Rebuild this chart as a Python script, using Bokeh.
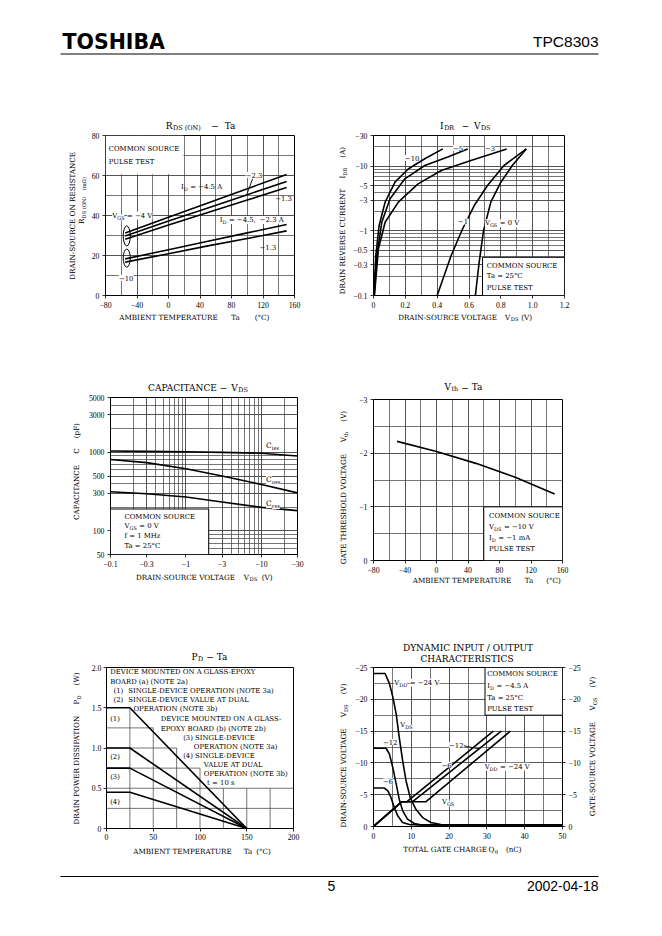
import math
from bokeh.plotting import figure
from bokeh.models import Range1d, FixedTicker, Label, LinearAxis
from bokeh.layouts import column, row
from bokeh.embed import file_html
from bokeh.resources import INLINE
from bokeh.core.properties import value

SERIF = "DejaVu Serif"
TICKF = "Liberation Serif"
SANS = "Liberation Sans"
GRID = "#484848"
LW = 1.6

# ---------------- Chart 1 : RDS(ON) - Ta ----------------
rds_ta = [-55, 0, 50, 100, 150]
rds_vgs4_id45 = [31.3, 39.1, 46.2, 53.4, 60.5]
rds_vgs4_id23 = [29.8, 37.2, 43.8, 50.4, 57.0]
rds_vgs4_id13 = [28.1, 35.2, 41.5, 47.7, 54.0]
rds_vgs10_id45 = [18.3, 22.9, 27.1, 31.3, 35.5]
rds_vgs10_id13 = [16.7, 20.9, 24.8, 28.5, 32.3]
rds_x_ticks = [-80, -40, 0, 40, 80, 120, 160]
rds_x_labels = ["−80", "−40", "0", "40", "80", "120", "160"]
rds_y_ticks = [0, 20, 40, 60, 80]
rds_y_labels = ["0", "20", "40", "60", "80"]

# ---------------- Chart 2 : IDR - VDS ----------------
idr_vgs0_v = [0.64, 0.664, 0.691, 0.737, 0.80, 0.872, 0.96]
idr_vgs0_i = [0.1, 0.328, 1.0, 2.79, 5.68, 10.3, 18.6]
idr_vgs1_v = [0.40, 0.488, 0.56, 0.633, 0.716, 0.82, 0.96]
idr_vgs1_i = [0.1, 0.416, 1.08, 2.47, 5.04, 10.3, 18.6]
idr_vgs3_v = [0.006, 0.031, 0.073, 0.156, 0.28, 0.426, 0.612, 0.837]
idr_vgs3_i = [0.1, 0.53, 1.36, 2.79, 5.35, 8.6, 12.3, 18.6]
idr_vgs5_v = [0.004, 0.021, 0.052, 0.104, 0.197, 0.322, 0.467, 0.592]
idr_vgs5_i = [0.1, 0.416, 1.36, 3.14, 6.4, 10.3, 13.9, 18.6]
idr_vgs10_v = [0.002, 0.0145, 0.035, 0.073, 0.135, 0.218, 0.322, 0.436]
idr_vgs10_i = [0.1, 0.416, 1.2, 2.79, 5.68, 9.1, 13.1, 18.6]
idr_x_ticks = [0, 0.2, 0.4, 0.6, 0.8, 1.0, 1.2]
idr_x_labels = ["0", "0.2", "0.4", "0.6", "0.8", "1.0", "1.2"]
idr_y_ticks = [0.1, 0.3, 0.5, 1, 3, 5, 10, 30]
idr_y_labels = ["−0.1", "−0.3", "−0.5", "−1", "−3", "−5", "−10", "−30"]

# ---------------- Chart 3 : Capacitance - VDS ----------------
cap_vds = [0.1, 0.3, 1, 3, 10, 30]
cap_ciss = [1040, 1030, 1020, 1000, 975, 900]
cap_coss = [810, 740, 620, 500, 390, 305]
cap_crss = [315, 297, 270, 233, 199, 181]
cap_x_ticks = [0.1, 0.3, 1, 3, 10, 30]
cap_x_labels = ["−0.1", "−0.3", "−1", "−3", "−10", "−30"]
cap_y_ticks = [50, 100, 300, 500, 1000, 3000, 5000]
cap_y_labels = ["50", "100", "300", "500", "1000", "3000", "5000"]

# ---------------- Chart 4 : Vth - Ta ----------------
vth_ta = [-50, 0, 50, 100, 150]
vth_v = [-2.22, -2.03, -1.81, -1.55, -1.24]
vth_x_ticks = [-80, -40, 0, 40, 80, 120, 160]
vth_x_labels = ["−80", "−40", "0", "40", "80", "120", "160"]
vth_y_ticks = [0, -1, -2, -3]
vth_y_labels = ["0", "−1", "−2", "−3"]

# ---------------- Chart 5 : PD - Ta ----------------
pd_ta = [0, 25, 150]
pd_1 = [1.5, 1.5, 0]
pd_2 = [1.0, 1.0, 0]
pd_3 = [0.75, 0.75, 0]
pd_4 = [0.45, 0.45, 0]
pd_x_ticks = [0, 50, 100, 150, 200]
pd_x_labels = ["0", "50", "100", "150", "200"]
pd_y_ticks = [0, 0.5, 1.0, 1.5, 2.0]
pd_y_labels = ["0", "0.5", "1.0", "1.5", "2.0"]

# ---------------- Chart 6 : dynamic input / output ----------------
dyn_vds24_q = [0, 3.07, 4.2, 5.1, 6.0, 6.8, 7.7, 8.6, 9.7, 11.2, 13.0, 15.2, 17.8, 50]
dyn_vds24_v = [-24.05, -24.05, -22.5, -20.4, -17.7, -14.05, -10.4, -7.2, -4.6, -2.7, -1.4, -0.63, -0.32, -0.26]
dyn_vds12_q = [0, 3.33, 4.2, 5.1, 6.0, 6.8, 7.7, 9.0, 10.8, 12.5, 50]
dyn_vds12_v = [-12.3, -12.3, -11.4, -9.3, -6.7, -4.3, -2.5, -1.16, -0.47, -0.26, -0.26]
dyn_vds6_q = [0, 2.9, 3.8, 4.6, 5.5, 6.4, 7.7, 9.5, 11.7, 50]
dyn_vds6_v = [-6.05, -6.05, -5.6, -4.6, -3.0, -1.68, -0.63, -0.32, -0.26, -0.26]
dyn_vgs6_q = [0, 7.5, 8.86, 31.7]
dyn_vgs12_q = [0, 7.5, 10.35, 33.8]
dyn_vgs24_q = [0, 7.5, 13.9, 36.2]
dyn_vgs_v = [0, -3.9, -3.9, -15.0]
dyn_x_ticks = [0, 10, 20, 30, 40, 50]
dyn_x_labels = ["0", "10", "20", "30", "40", "50"]
dyn_y_ticks = [0, -5, -10, -15, -20, -25]
dyn_y_labels = ["0", "−5", "−10", "−15", "−20", "−25"]

# ---------------- text helpers ----------------
CW = {' ': .318, 'A': .722, 'B': .735, 'C': .765, 'D': .802, 'E': .730, 'F': .694, 'G': .799,
      'H': .872, 'I': .395, 'J': .401, 'K': .747, 'L': .664, 'M': 1.024, 'N': .875, 'O': .820,
      'P': .673, 'Q': .820, 'R': .753, 'S': .685, 'T': .667, 'U': .843, 'V': .722, 'W': 1.028,
      'X': .712, 'Y': .660, 'Z': .695, 'a': .596, 'b': .640, 'c': .560, 'd': .640, 'e': .592,
      'f': .370, 'g': .640, 'h': .644, 'i': .320, 'j': .310, 'k': .606, 'l': .320, 'm': .948,
      'n': .644, 'o': .602, 'p': .640, 'q': .640, 'r': .478, 's': .513, 't': .402, 'u': .644,
      'v': .565, 'w': .856, 'x': .564, 'y': .565, 'z': .527, '(': .390, ')': .390, '-': .338,
      '−': .838, '=': .838, '.': .318, ',': .318, '/': .337, '°': .500, 'Ω': .830}
SUB = 0.72


def tw(s, size):
    return sum(CW.get(c, .636) for c in s) * size


def pieces(parts, size):
    items = []
    for part in parts:
        if isinstance(part, (int, float)):
            items.append((None, False, float(part)))
        elif isinstance(part, str):
            items.append((part, False, tw(part, size)))
        else:
            items.append((part[0], True, tw(part[0], size * SUB)))
    return items


def rich(p, x, y, parts, size=6.9, bg=None):
    """In-frame annotation at a data position, with subscripts."""
    off = 0.0
    for t, sub, w in pieces(parts, size):
        if t is not None:
            fs = size * SUB if sub else size
            d = size * 0.3 if sub else 0.0
            p.add_layout(Label(x=x, y=y, x_offset=off, y_offset=-d, text=t,
                               text_font=SERIF, text_font_size=f"{fs:.2f}px",
                               text_align="left", text_baseline="middle", text_color="black",
                               background_fill_color=bg))
        off += w


def htext(f, py, items, size=7.2):
    """Horizontal text in a page-coordinate strip; each piece anchored at its own x."""
    for t, x, align, sub in items:
        fs = size * SUB if sub else size
        y = py + size * 0.25 if sub else py
        f.text(x=[x], y=[y], text=[t], text_font=value(SERIF), text_font_size=f"{fs:.2f}px",
               text_align=align, text_baseline="middle", text_color="black")


def vtext(f, px, py, parts, size=7.2):
    """Text rotated 90 degrees (reading upwards), centred on (px, py)."""
    items = pieces(parts, size)
    total = sum(w for _, _, w in items)
    off = -total / 2
    for t, sub, w in items:
        if t is not None:
            fs = size * SUB if sub else size
            d = size * 0.3 if sub else 0.0
            f.text(x=[px + d], y=[py - off], text=[t], angle=math.pi / 2,
                   text_font=value(SERIF), text_font_size=f"{fs:.2f}px",
                   text_align="left", text_baseline="middle", text_color="black")
        off += w


def strip(xa, xb, ya, yb, xr=None):
    f = figure(width=xb - xa, height=yb - ya,
               x_range=Range1d(*(xr if xr is not None else (xa, xb))), y_range=Range1d(yb, ya),
               min_border=0, toolbar_location=None, output_backend="svg",
               x_axis_location=None, y_axis_location=None)
    f.grid.visible = False
    f.outline_line_color = None
    f.background_fill_color = "white"
    f.border_fill_color = "white"
    return f


class Cell:
    def __init__(self, x0, cw, y0, rh, sl, th, bh, sr, fr, xr, yr, xtype="linear", ytype="linear"):
        px0, px1 = x0 + sl, x0 + cw - sr
        py0, py1 = y0 + th, y0 + rh - bh
        L, R = fr[0] - px0, px1 - (fr[0] + fr[2])
        T, B = fr[1] - py0, py1 - (fr[1] + fr[3])
        self.p = figure(width=px1 - px0, height=py1 - py0, x_range=xr, y_range=yr,
                        x_axis_type=xtype, y_axis_type=ytype, output_backend="svg",
                        toolbar_location=None, min_border_left=L, min_border_right=R,
                        min_border_top=T, min_border_bottom=B)
        p = self.p
        p.outline_line_color = "black"
        p.outline_line_width = 1
        p.background_fill_color = "white"
        p.border_fill_color = "white"
        # strips stacked with the plot share its frame's horizontal extent
        fx = (fr[0], fr[0] + fr[2])
        self.top = strip(px0, px1, y0, py0, xr=fx)
        self.bottom = strip(px0, px1, py1, y0 + rh, xr=fx)
        self.left = strip(x0, px0, y0, y0 + rh)
        self.right = strip(px1, x0 + cw, y0, y0 + rh) if sr > 0 else None

    def layout(self):
        kids = [self.left, column(self.top, self.p, self.bottom)]
        if self.right is not None:
            kids.append(self.right)
        return row(*kids)


def style(p, xt, xl, yt, yl, xminor, yminor):
    p.xaxis.ticker = FixedTicker(ticks=xt, minor_ticks=xminor)
    p.yaxis.ticker = FixedTicker(ticks=yt, minor_ticks=yminor)
    p.xaxis.major_label_overrides = dict(zip(xt, xl))
    p.yaxis.major_label_overrides = dict(zip(yt, yl))
    for ax in p.axis:
        ax.axis_line_color = None
        ax.major_tick_in = 0
        ax.major_tick_out = 3
        ax.major_tick_line_color = "black"
        ax.major_tick_line_width = 0.8
        ax.minor_tick_line_color = None
        ax.major_label_text_font = TICKF
        ax.major_label_text_font_size = "7.8px"
        ax.major_label_text_color = "black"
        ax.major_label_standoff = 2
    for g in p.grid:
        g.grid_line_color = GRID
        g.grid_line_width = 0.75
        g.minor_grid_line_color = GRID
        g.minor_grid_line_width = 0.75


def curve(p, x, y):
    p.line(x, y, line_color="black", line_width=LW, line_join="round")


# frames in page coordinates: left, top, width, height
FR1 = (105, 135, 189, 160)
FR2 = (372, 135, 192, 160)
FR3 = (106, 397, 191, 157)
FR4 = (373, 399, 189, 161)
FR5 = (106, 667, 187, 161)
FR6 = (372, 667, 190, 159)

# ---------------- Chart 1 ----------------
c1 = Cell(0, 330, 62, 278, 88, 70, 30, 0, FR1, Range1d(-80, 160), Range1d(0, 80))
p1 = c1.p
style(p1, rds_x_ticks, rds_x_labels, rds_y_ticks, rds_y_labels,
      list(range(-80, 161, 20)), list(range(0, 81, 10)))
p1.quad(left=[-80], right=[19], bottom=[60.6], top=[80], fill_color="white", line_color=None)
for ys in (rds_vgs4_id45, rds_vgs4_id23, rds_vgs4_id13, rds_vgs10_id45, rds_vgs10_id13):
    curve(p1, rds_ta, ys)
p1.ellipse(x=[-53, -53], y=[29.8, 18.7], width=[9, 9], height=[10, 9], fill_color=None,
           line_color="black", line_width=1)
p1.segment(x0=[106.7], y0=[58.3], x1=[99.5], y1=[50.5], line_color="black", line_width=0.9)
rich(p1, -76, 73.3, ["COMMON SOURCE"])
rich(p1, -76, 66.7, ["PULSE TEST"])
rich(p1, 98, 60.3, ["−2.3"], bg="white")
rich(p1, 16, 54.5, ["I", ("D", "s"), 2.5, "= −4.5 A"])
rich(p1, 135.5, 48.7, ["−1.3"])
rich(p1, -71.5, 40, ["V", ("GS", "s"), 2.5, "= −4 V"], bg="white")
rich(p1, 65, 37.8, ["I", ("D", "s"), 2.5, "= −4.5,", 4, "−2.3 A"], bg="white")
rich(p1, 115.6, 24.2, ["−1.3"])
rich(p1, -63, 8.7, ["−10"], bg="white")
htext(c1.top, 125, [("R", 172, "right", False), ("DS (ON)", 172.5, "left", True),
                    ("−", 214.5, "center", False), ("Ta", 229.5, "center", False)], size=9)
vtext(c1.left, 72, 215, ["DRAIN-SOURCE ON RESISTANCE"])
vtext(c1.left, 81, 200, ["R", ("DS (ON)", "s"), 6, ("(mΩ)", "s")])
htext(c1.bottom, 317, [("AMBIENT TEMPERATURE", 168, "center", False),
                       ("Ta", 235, "center", False), ("(°C)", 261.5, "center", False)])

# ---------------- Chart 2 ----------------
c2 = Cell(330, 324, 62, 278, 20, 70, 30, 0, FR2, Range1d(0, 1.2), Range1d(0.1, 30), ytype="log")
p2 = c2.p
style(p2, idr_x_ticks, idr_x_labels, idr_y_ticks, idr_y_labels,
      [0, 0.1, 0.2, 0.3, 0.4, 0.5, 0.6, 0.7, 0.8, 0.9, 1.0, 1.1, 1.2],
      [0.1, 0.2, 0.3, 0.4, 0.5, 0.6, 0.7, 0.8, 0.9, 1, 2, 3, 4, 5, 6, 7, 8, 9, 10, 20, 30])
p2.quad(left=[0.685], right=[1.2], bottom=[0.1], top=[0.39], fill_color="white",
        line_color="black", line_width=1)
for xs, ys in ((idr_vgs0_v, idr_vgs0_i), (idr_vgs1_v, idr_vgs1_i), (idr_vgs3_v, idr_vgs3_i),
               (idr_vgs5_v, idr_vgs5_i), (idr_vgs10_v, idr_vgs10_i)):
    curve(p2, xs, ys)
rich(p2, 0.197, 13.5, ["−10"], bg="white")
rich(p2, 0.50, 19.3, ["−5"], bg="white")
rich(p2, 0.70, 19.3, ["−3"], bg="white")
rich(p2, 0.53, 1.4, ["−1"], bg="white")
rich(p2, 0.70, 1.31, ["V", ("GS", "s"), 2.5, "= 0 V"], bg="white")
rich(p2, 0.712, 0.291, ["COMMON SOURCE"])
rich(p2, 0.712, 0.197, ["Ta = 25°C"])
rich(p2, 0.712, 0.131, ["PULSE TEST"])
htext(c2.top, 125, [("I", 442.5, "right", False), ("DR", 443, "left", True),
                    ("−", 464.5, "center", False), ("V", 479.5, "right", False),
                    ("DS", 480, "left", True)], size=9)
vtext(c2.left, 342, 220, ["DRAIN REVERSE CURRENT", 10, "I", ("DR", "s"), 10, "(A)"])
htext(c2.bottom, 317, [("DRAIN-SOURCE VOLTAGE", 446.5, "center", False),
                       ("V", 509.5, "right", False), ("DS", 510, "left", True),
                       ("(V)", 526, "center", False)])

# ---------------- Chart 3 ----------------
c3 = Cell(0, 330, 340, 260, 85, 53, 31, 0, FR3, Range1d(0.1, 30), Range1d(50, 5000),
          xtype="log", ytype="log")
p3 = c3.p
style(p3, cap_x_ticks, cap_x_labels, cap_y_ticks, cap_y_labels,
      [0.1, 0.2, 0.3, 0.4, 0.5, 0.6, 0.7, 0.8, 0.9, 1, 2, 3, 4, 5, 6, 7, 8, 9, 10, 20, 30],
      [50, 60, 70, 80, 90, 100, 200, 300, 400, 500, 600, 700, 800, 900, 1000, 2000, 3000,
       4000, 5000])
p3.quad(left=[0.1], right=[2.0], bottom=[50], top=[190], fill_color="white",
        line_color="black", line_width=1)
for ys in (cap_ciss, cap_coss, cap_crss):
    curve(p3, cap_vds, ys)
rich(p3, 11.5, 1218, ["C", ("iss", "s")], size=7.5, bg="white")
rich(p3, 11.5, 451, ["C", ("oss", "s")], size=7.5, bg="white")
rich(p3, 11.5, 222, ["C", ("rss", "s")], size=7.5, bg="white")
rich(p3, 0.153, 150, ["COMMON SOURCE"])
rich(p3, 0.153, 115.5, ["V", ("GS", "s"), 2.5, "= 0 V"])
rich(p3, 0.153, 86.2, ["f = 1 MHz"])
rich(p3, 0.153, 65, ["Ta = 25°C"])
htext(c3.top, 387, [("CAPACITANCE", 179.5, "center", False), ("−", 221.5, "center", False),
                    ("V", 236, "right", False), ("DS", 236.5, "left", True)], size=9)
vtext(c3.left, 76, 471, ["CAPACITANCE", 10, "C", 10, "(pF)"])
htext(c3.bottom, 577, [("DRAIN-SOURCE VOLTAGE", 182.5, "center", False),
                       ("V", 247.5, "right", False), ("DS", 248, "left", True),
                       ("(V)", 266, "center", False)])

# ---------------- Chart 4 ----------------
c4 = Cell(330, 324, 340, 260, 22, 53, 25, 0, FR4, Range1d(-80, 160), Range1d(0, -3))
p4 = c4.p
style(p4, vth_x_ticks, vth_x_labels, vth_y_ticks, vth_y_labels,
      list(range(-80, 161, 20)), [0, -0.5, -1.0, -1.5, -2.0, -2.5, -3.0])
p4.quad(left=[60], right=[160], bottom=[0], top=[-1.0], fill_color="white",
        line_color="black", line_width=1)
curve(p4, vth_ta, vth_v)
rich(p4, 66.8, -0.82, ["COMMON SOURCE"])
rich(p4, 66.8, -0.62, ["V", ("DS", "s"), 2.5, "= −10 V"])
rich(p4, 66.8, -0.42, ["I", ("D", "s"), 2.5, "= −1 mA"])
rich(p4, 66.8, -0.22, ["PULSE TEST"])
htext(c4.top, 386.5, [("V", 450.5, "right", False), ("th", 451, "left", True),
                      ("−", 464.5, "center", False), ("Ta", 476.5, "center", False)], size=9)
vtext(c4.left, 343, 487, ["GATE THRESHOLD VOLTAGE", 10, "V", ("th", "s"), 10, "(V)"])
htext(c4.bottom, 580, [("AMBIENT TEMPERATURE", 461.5, "center", False),
                       ("Ta", 528.5, "center", False), ("(°C)", 553, "center", False)])

# ---------------- Chart 5 ----------------
c5 = Cell(0, 330, 600, 266, 86, 62, 22, 0, FR5, Range1d(0, 200), Range1d(0, 2.0))
p5 = c5.p
style(p5, pd_x_ticks, pd_x_labels, pd_y_ticks, pd_y_labels, [], [])
for g in p5.grid:
    g.grid_line_color = None
    g.minor_grid_line_color = None
pd_vgrid_x = [25, 50, 75, 100, 125, 150, 175]
pd_vgrid_top = [1.5, 1.25, 1.0, 0.75, 0.5, 0.5, 0.5]
pd_hgrid_y = [0.25, 0.5, 0.75, 1.0, 1.25]
pd_hgrid_right = [200, 200, 100, 75, 50]
p5.segment(x0=pd_vgrid_x, y0=[0] * 7, x1=pd_vgrid_x, y1=pd_vgrid_top, line_color=GRID, line_width=0.75)
p5.segment(x0=[0] * 5, y0=pd_hgrid_y, x1=pd_hgrid_right, y1=pd_hgrid_y, line_color=GRID, line_width=0.75)
for ys in (pd_1, pd_2, pd_3, pd_4):
    curve(p5, pd_ta, ys)
rich(p5, 3.9, 1.358, ["(1)"])
rich(p5, 3.9, 0.89, ["(2)"])
rich(p5, 3.9, 0.642, ["(3)"])
rich(p5, 3.9, 0.323, ["(4)"])
pd_notes = [
    (3.9, 1.94, "DEVICE MOUNTED ON A GLASS-EPOXY"),
    (3.9, 1.82, "BOARD (a) (NOTE 2a)"),
    (7.5, 1.706, "(1)  SINGLE-DEVICE OPERATION (NOTE 3a)"),
    (7.5, 1.594, "(2)  SINGLE-DEVICE VALUE AT DUAL"),
    (28.8, 1.48, "OPERATION (NOTE 3b)"),
    (57.9, 1.358, "DEVICE MOUNTED ON A GLASS-"),
    (57.9, 1.242, "EPOXY BOARD (b) (NOTE 2b)"),
    (82.0, 1.13, "(3) SINGLE-DEVICE"),
    (93.4, 1.014, "OPERATION (NOTE 3a)"),
    (82.0, 0.90, "(4) SINGLE-DEVICE"),
    (104.0, 0.787, "VALUE AT DUAL"),
    (104.0, 0.675, "OPERATION (NOTE 3b)"),
    (107.6, 0.56, "t = 10 s"),
]
for nx, ny, nt in pd_notes:
    if "  " in nt:
        a, b = nt.split("  ", 1)
        rich(p5, nx, ny, [a, 5, b])
    else:
        rich(p5, nx, ny, [nt])
htext(c5.top, 656, [("P", 197, "right", False), ("D", 197.5, "left", True),
                    ("−", 209.5, "center", False), ("Ta", 221.5, "center", False)], size=9)
vtext(c5.left, 76, 748, ["DRAIN POWER DISSIPATION", 10, "P", ("D", "s"), 10, "(W)"])
htext(c5.bottom, 851, [("AMBIENT TEMPERATURE", 182, "center", False),
                       ("Ta", 247.5, "center", False), ("(°C)", 263, "center", False)])

# ---------------- Chart 6 ----------------
c6 = Cell(330, 324, 600, 266, 22, 63, 24, 68, FR6, Range1d(0, 50), Range1d(0, -25))
p6 = c6.p
p6.add_layout(LinearAxis(), "right")
style(p6, dyn_x_ticks, dyn_x_labels, dyn_y_ticks, dyn_y_labels,
      [0, 5, 10, 15, 20, 25, 30, 35, 40, 45, 50],
      [0, -2.5, -5, -7.5, -10, -12.5, -15, -17.5, -20, -22.5, -25])
p6.quad(left=[29.5], right=[50], bottom=[-17.5], top=[-25], fill_color="white",
        line_color="black", line_width=1)
for xs, ys in ((dyn_vds24_q, dyn_vds24_v), (dyn_vds12_q, dyn_vds12_v), (dyn_vds6_q, dyn_vds6_v),
               (dyn_vgs6_q, dyn_vgs_v), (dyn_vgs12_q, dyn_vgs_v), (dyn_vgs24_q, dyn_vgs_v)):
    curve(p6, xs, ys)
p6.segment(x0=[23.8], y0=[-12.7], x1=[28.0], y1=[-12.2], line_color="black", line_width=0.9)
rich(p6, 30.1, -23.9, ["COMMON SOURCE"])
rich(p6, 30.1, -22.05, ["I", ("D", "s"), 2.5, "= −4.5 A"])
rich(p6, 30.1, -20.25, ["Ta = 25°C"])
rich(p6, 30.1, -18.4, ["PULSE TEST"])
rich(p6, 5.5, -22.6, ["V", ("DD", "s"), 2.5, "= −24 V"], bg="white")
rich(p6, 7.1, -15.9, ["V", ("DS", "s")], bg="white")
rich(p6, 2.5, -13.3, ["−12"], bg="white")
rich(p6, 2.5, -7.1, ["−6"], bg="white")
rich(p6, 20.0, -12.8, ["−12"], bg="white")
rich(p6, 18.0, -9.7, ["−6"], bg="white")
rich(p6, 29.4, -9.4, ["V", ("DD", "s"), 2.5, "= −24 V"], bg="white")
rich(p6, 18.1, -3.9, ["V", ("GS", "s")], bg="white")
htext(c6.top, 647, [("DYNAMIC INPUT / OUTPUT", 467, "center", False)], size=9)
htext(c6.top, 658, [("CHARACTERISTICS", 466, "center", False)], size=9)
vtext(c6.left, 343, 755, ["DRAIN-SOURCE VOLTAGE", 10, "V", ("DS", "s"), 10, "(V)"])
vtext(c6.right, 592, 746, ["GATE-SOURCE VOLTAGE", 10, "V", ("GS", "s"), 10, "(V)"])
htext(c6.bottom, 849, [("TOTAL GATE CHARGE", 444, "center", False),
                       ("Q", 493.5, "right", False), ("g", 494, "left", True),
                       ("(nC)", 513, "center", False)])

# ---------------- header / footer ----------------
hdr = strip(0, 654, 0, 62)
hdr.text(x=[62], y=[41], text=["TOSHIBA"], text_font=value("DejaVu Sans"),
         text_font_style="bold", text_font_size="20.5px", text_align="left",
         text_baseline="middle", text_color="black")
hdr.text(x=[598], y=[41], text=["TPC8303"], text_font=value(SANS), text_font_size="15.5px",
         text_align="right", text_baseline="middle", text_color="black")
hdr.segment(x0=[60], y0=[53.5], x1=[598], y1=[53.5], line_color="black", line_width=1)

ftr = strip(0, 654, 866, 910)
ftr.segment(x0=[60], y0=[876], x1=[598], y1=[876], line_color="black", line_width=1)
ftr.text(x=[331], y=[885], text=["5"], text_font=value(SANS), text_font_size="14px",
         text_align="center", text_baseline="middle", text_color="black")
ftr.text(x=[598], y=[885], text=["2002-04-18"], text_font=value(SANS), text_font_size="14px",
         text_align="right", text_baseline="middle", text_color="black")

layout = column(hdr,
                row(c1.layout(), c2.layout()),
                row(c3.layout(), c4.layout()),
                row(c5.layout(), c6.layout()),
                ftr)
open("out.html", "w").write(file_html(layout, INLINE, "TPC8303"))
